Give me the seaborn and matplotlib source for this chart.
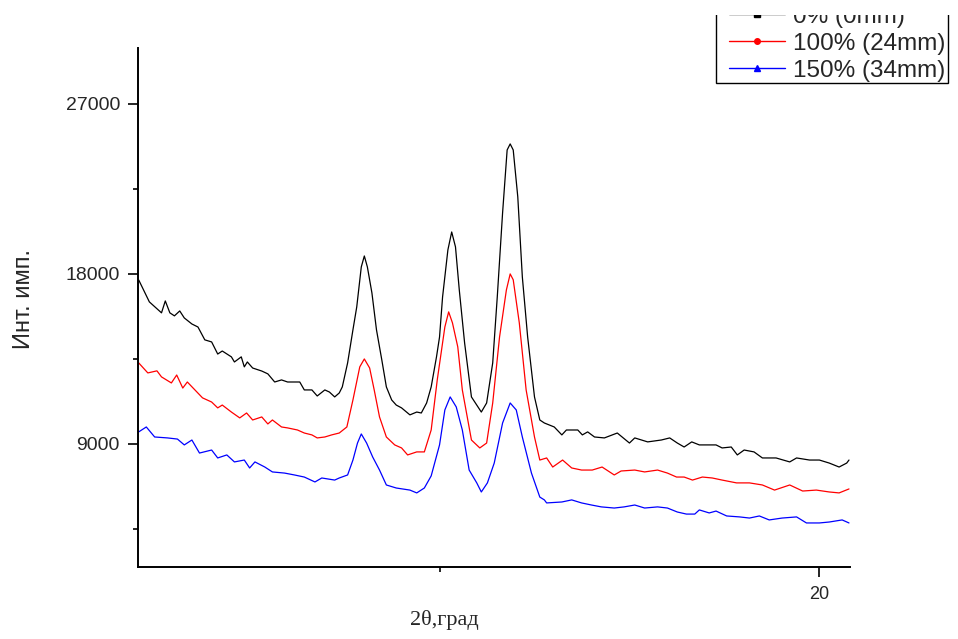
import pandas as pd
import seaborn as sns
import matplotlib.pyplot as plt
from matplotlib.lines import Line2D
from matplotlib.patches import Rectangle
from matplotlib.ticker import MultipleLocator

# digitised diffractograms (2theta in degrees, intensity in counts)
theta_0 = [11.04, 11.18, 11.34, 11.39, 11.45, 11.51, 11.58, 11.64, 11.74, 11.82,
           11.91, 12.00, 12.08, 12.14, 12.26, 12.30, 12.39, 12.43, 12.47, 12.54,
           12.66, 12.74, 12.83, 12.92, 13.00, 13.16, 13.22, 13.32, 13.39, 13.49,
           13.55, 13.62, 13.68, 13.72, 13.79, 13.86, 13.91, 13.97, 14.01, 14.05,
           14.11, 14.17, 14.24, 14.30, 14.37, 14.43, 14.50, 14.61, 14.70, 14.76,
           14.83, 14.89, 14.96, 15.00, 15.04, 15.11, 15.16, 15.21, 15.26, 15.33,
           15.42, 15.55, 15.62, 15.70, 15.76, 15.83, 15.89, 15.93, 15.97, 16.03,
           16.09, 16.16, 16.25, 16.32, 16.38, 16.51, 16.61, 16.67, 16.82, 16.88,
           16.95, 17.04, 17.17, 17.34, 17.50, 17.57, 17.74, 17.92, 18.03, 18.13,
           18.22, 18.32, 18.42, 18.64, 18.72, 18.84, 18.92, 19.01, 19.14, 19.25,
           19.43, 19.61, 19.70, 19.87, 20.00, 20.13, 20.26, 20.36, 20.39]
counts_0 = [17680, 16520, 15940, 16570, 15940, 15780, 16040, 15670, 15350, 15190,
            14510, 14400, 13760, 13920, 13610, 13340, 13610, 13080, 13340, 13020,
            12860, 12710, 12280, 12390, 12280, 12280, 11860, 11860, 11540, 11860,
            11750, 11490, 11700, 12020, 13290, 15040, 16250, 18370, 18950, 18370,
            16990, 15040, 13450, 12020, 11330, 11060, 10910, 10540, 10690, 10640,
            11170, 12020, 13610, 14660, 16780, 19270, 20220, 19430, 17150, 14350,
            11490, 10690, 11170, 13290, 16780, 21230, 24560, 24880, 24560, 22080,
            17840, 14660, 11490, 10270, 10110, 9900, 9480, 9740, 9740, 9480,
            9640, 9370, 9320, 9580, 9050, 9320, 9110, 9210, 9320, 9050,
            8840, 9110, 8950, 8950, 8790, 8840, 8420, 8680, 8580, 8260,
            8260, 8050, 8260, 8150, 8150, 7990, 7780, 7990, 8150]

theta_100 = [11.04, 11.16, 11.28, 11.34, 11.47, 11.54, 11.62, 11.68, 11.78, 11.88,
             12.00, 12.08, 12.14, 12.26, 12.37, 12.46, 12.54, 12.66, 12.74, 12.80,
             12.92, 13.00, 13.13, 13.22, 13.32, 13.39, 13.49, 13.58, 13.68, 13.78,
             13.86, 13.95, 14.01, 14.08, 14.14, 14.21, 14.30, 14.41, 14.50, 14.58,
             14.70, 14.80, 14.89, 14.97, 15.07, 15.12, 15.17, 15.24, 15.30, 15.42,
             15.53, 15.62, 15.70, 15.79, 15.88, 15.93, 15.97, 16.05, 16.14, 16.25,
             16.32, 16.41, 16.49, 16.62, 16.74, 16.87, 17.01, 17.14, 17.30, 17.39,
             17.57, 17.70, 17.87, 18.00, 18.12, 18.22, 18.33, 18.46, 18.59, 18.72,
             18.91, 19.08, 19.25, 19.41, 19.61, 19.78, 19.96, 20.13, 20.26, 20.39]
counts_100 = [13290, 12760, 12870, 12550, 12230, 12650, 11960, 12280, 11860, 11440,
              11220, 10910, 11060, 10690, 10380, 10640, 10270, 10430, 10060, 10270,
              9900, 9850, 9740, 9580, 9480, 9320, 9370, 9480, 9580, 9900,
              11330, 13080, 13500, 13020, 11860, 10430, 9370, 8950, 8790, 8420,
              8580, 8580, 9740, 12390, 15190, 15990, 15410, 14140, 11860, 9210,
              8790, 9050, 11170, 14660, 17150, 18000, 17690, 15410, 11860, 9370,
              8150, 8260, 7780, 8150, 7730, 7620, 7620, 7780, 7360, 7570,
              7620, 7520, 7620, 7460, 7250, 7250, 7090, 7250, 7200, 7090,
              6940, 6940, 6830, 6560, 6830, 6510, 6560, 6460, 6410, 6620]

theta_150 = [11.04, 11.14, 11.25, 11.42, 11.55, 11.64, 11.74, 11.84, 12.00, 12.08,
             12.20, 12.30, 12.43, 12.50, 12.57, 12.70, 12.80, 12.96, 13.09, 13.22,
             13.36, 13.45, 13.62, 13.68, 13.79, 13.86, 13.92, 13.97, 14.04, 14.12,
             14.21, 14.30, 14.43, 14.61, 14.70, 14.80, 14.89, 15.00, 15.07, 15.14,
             15.22, 15.30, 15.39, 15.49, 15.55, 15.63, 15.72, 15.83, 15.93, 16.01,
             16.09, 16.21, 16.32, 16.38, 16.41, 16.61, 16.74, 16.87, 17.00, 17.13,
             17.30, 17.43, 17.57, 17.70, 17.87, 18.00, 18.13, 18.25, 18.36, 18.42,
             18.55, 18.64, 18.78, 18.95, 19.08, 19.21, 19.34, 19.51, 19.70, 19.83,
             20.00, 20.13, 20.30, 20.39]
counts_150 = [9640, 9900, 9370, 9320, 9260, 8950, 9210, 8520, 8680, 8260,
              8420, 8050, 8150, 7730, 8050, 7780, 7520, 7460, 7360, 7250,
              6990, 7200, 7090, 7200, 7360, 8150, 9050, 9530, 9050, 8310,
              7620, 6830, 6670, 6560, 6410, 6670, 7310, 8950, 10800, 11490,
              10960, 9740, 7620, 6940, 6460, 6940, 7990, 10110, 11170, 10800,
              9370, 7460, 6190, 6040, 5880, 5930, 6040, 5880, 5770, 5670,
              5610, 5670, 5770, 5610, 5670, 5610, 5400, 5290, 5290, 5510,
              5350, 5450, 5190, 5140, 5080, 5190, 4980, 5080, 5140, 4820,
              4820, 4870, 4980, 4820]

labels = ['0% (0mm)', '100% (24mm)', '150% (34mm)']
colors = ['#000000', '#ff0000', '#0000ff']
markers = ['s', 'o', '^']

df = pd.concat([
    pd.DataFrame({'theta': theta_0, 'counts': counts_0, 'sample': labels[0]}),
    pd.DataFrame({'theta': theta_100, 'counts': counts_100, 'sample': labels[1]}),
    pd.DataFrame({'theta': theta_150, 'counts': counts_150, 'sample': labels[2]}),
])

sns.set_style('ticks')
plt.rcParams['font.family'] = ['Liberation Sans', 'DejaVu Sans']

W, H = 958, 639
fig = plt.figure(figsize=(W / 100, H / 100), dpi=100)
ax = fig.add_axes([0.144, 0.1127, 0.743, 0.8123])

sns.lineplot(data=df, x='theta', y='counts', hue='sample', hue_order=labels,
             palette=colors, estimator=None, sort=False, legend=False,
             linewidth=0.9, ax=ax)

ax.set_xlim(11.03, 20.40)
ax.set_ylim(2490, 29960)
ax.xaxis.set_major_locator(MultipleLocator(10))
ax.xaxis.set_minor_locator(MultipleLocator(5))
ax.yaxis.set_major_locator(MultipleLocator(9000))
ax.yaxis.set_minor_locator(MultipleLocator(4500))
ax.tick_params(axis='both', which='major', direction='out', length=7, width=1.2, color='black')
ax.tick_params(axis='both', which='minor', direction='out', length=3.5, width=1.2, color='black')
ax.tick_params(axis='y', which='major', labelsize=14, pad=6)
ax.tick_params(axis='x', which='major', labelsize=13, pad=7)

for side in ['top', 'right']:
    ax.spines[side].set_visible(False)
for side in ['left', 'bottom']:
    ax.spines[side].set_linewidth(1.4)
    ax.spines[side].set_color('black')

ax.set_ylabel('Инт. имп.', fontsize=17)
ax.yaxis.set_label_coords(-0.144, 0.516)
ax.set_xlabel('2θ,град', fontsize=16, family=['Liberation Serif', 'DejaVu Serif'])
ax.xaxis.set_label_coords(0.430, -0.083)

# legend box: frame drawn separately, top runs off the page
fig.patches.append(Rectangle((716 / W, 1 - 83 / H), (948 - 716) / W, 100 / H,
                             transform=fig.transFigure, facecolor='white',
                             edgecolor='black', linewidth=1.0, zorder=2))
handles = [Line2D([], [], color=c, marker=m, markersize=4, linewidth=1)
           for c, m in zip(colors, markers)]
leg = fig.legend(handles, labels, loc='lower left',
                 bbox_to_anchor=(729 / W, 1 - 82 / H),
                 frameon=False, fontsize=17.5, handlelength=2.3,
                 handletextpad=0.35, borderpad=0, labelspacing=0.21,
                 borderaxespad=0)
leg.set_zorder(3)
# the top strip of the page is blank in the original, cutting the first entry
fig.patches.append(Rectangle((700 / W, 1 - 15 / H), 258 / W, 15 / H,
                             transform=fig.transFigure, facecolor='white',
                             edgecolor='none', zorder=10))

fig.savefig('out.png', dpi=100)
